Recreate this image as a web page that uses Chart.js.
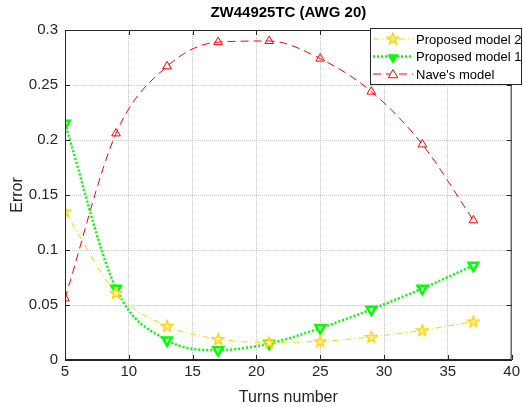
<!DOCTYPE html>
<html>
<head>
<meta charset="utf-8">
<script src="https://cdn.jsdelivr.net/npm/chart.js@4.4.1/dist/chart.umd.min.js"></script>
<style>
  html, body { margin: 0; padding: 0; background: #fff; }
  #wrap { width: 523px; height: 407px; position: relative; }
</style>
</head>
<body>
<div id="wrap"><canvas id="errChart"></canvas></div>
<script>
// data
const turns = [5, 9, 13, 17, 21, 25, 29, 33, 37];
const model2 = [0.135, 0.061, 0.031, 0.019, 0.016, 0.017, 0.021, 0.027, 0.035];
const model1 = [0.215, 0.065, 0.018, 0.009, 0.015, 0.029, 0.046, 0.065, 0.086];
const naveModel = [0.056, 0.206, 0.267, 0.289, 0.290, 0.274, 0.244, 0.196, 0.127];
const seriesNames = ['Proposed model 2', 'Proposed model 1', "Nave's model"];
const chartTitle = 'ZW44925TC (AWG 20)';

const FONT = 'Liberation Sans, Arial, sans-serif';
const YELLOW = '#FFD000';
const GREEN = '#00FF00';
const RED = '#FF0000';

function starPath(ctx, cx, cy, r) {
    ctx.beginPath();
    for (let i = 0; i < 10; i++) {
        var rr = i % 2 === 0 ? r : r * 0.42;
        var a = -Math.PI / 2 + i * Math.PI / 5;
        var px = cx + rr * Math.cos(a), py = cy + rr * Math.sin(a);
        if (i === 0) ctx.moveTo(px, py); else ctx.lineTo(px, py);
    }
    ctx.closePath();
}

// pentagram marker image
const starImg = document.createElement('canvas');
starImg.width = 14; starImg.height = 14;
(function () {
    var c = starImg.getContext('2d');
    starPath(c, 7, 7.5, 6);
    c.fillStyle = '#FFEE99';
    c.fill();
    c.strokeStyle = YELLOW;
    c.lineWidth = 1.3;
    c.stroke();
})();

function triPath(ctx, cx, cy, r, down) {
    var s = down ? -1 : 1;
    ctx.beginPath();
    ctx.moveTo(cx, cy - s * r);
    ctx.lineTo(cx + r * 0.87, cy + s * r * 0.5);
    ctx.lineTo(cx - r * 0.87, cy + s * r * 0.5);
    ctx.closePath();
}

function fmtTick(v) {
    return String(parseFloat(Number(v).toFixed(2)));
}

const framePlugin = {
    id: 'frame',
    afterDraw(chart) {
        const ctx = chart.ctx;
        const a = chart.chartArea;
        const xs = chart.scales.x, ys = chart.scales.y;
        ctx.save();
        // box and inward ticks
        ctx.strokeStyle = '#262626';
        ctx.lineWidth = 1;
        ctx.strokeRect(a.left + 0.5, a.top + 0.5, a.right - a.left - 1, a.bottom - a.top - 1);
        ctx.beginPath();
        xs.ticks.forEach(t => {
            var px = Math.round(xs.getPixelForValue(t.value)) + 0.5;
            ctx.moveTo(px, a.bottom); ctx.lineTo(px, a.bottom - 5);
            ctx.moveTo(px, a.top); ctx.lineTo(px, a.top + 5);
        });
        ys.ticks.forEach(t => {
            var py = Math.round(ys.getPixelForValue(t.value)) + 0.5;
            ctx.moveTo(a.left, py); ctx.lineTo(a.left + 5, py);
            ctx.moveTo(a.right, py); ctx.lineTo(a.right - 5, py);
        });
        ctx.stroke();

        // title
        ctx.fillStyle = '#000';
        ctx.font = 'bold 15px ' + FONT;
        ctx.textAlign = 'center';
        ctx.textBaseline = 'middle';
        ctx.fillText(chartTitle, (a.left + a.right) / 2, 13);

        // legend box
        var lx = 370, ly = 28, lw = 152, lh = 57;
        ctx.fillStyle = '#fff';
        ctx.fillRect(lx, ly, lw, lh);
        ctx.strokeStyle = '#262626';
        ctx.strokeRect(lx + 0.5, ly + 0.5, lw - 1, lh - 1);
        var styles = [
            { color: YELLOW, dash: [6, 3, 1, 3], width: 1, marker: 'star' },
            { color: GREEN, dash: [2, 2], width: 2.5, marker: 'tridown' },
            { color: RED, dash: [8, 5], width: 1, marker: 'tri' }
        ];
        ctx.font = '13px ' + FONT;
        ctx.textAlign = 'left';
        styles.forEach((s, i) => {
            var y = ly + 11 + i * 17.5;
            ctx.strokeStyle = s.color;
            ctx.lineWidth = s.width;
            ctx.setLineDash(s.dash);
            ctx.beginPath();
            ctx.moveTo(lx + 3, y); ctx.lineTo(lx + 43, y);
            ctx.stroke();
            ctx.setLineDash([]);
            var mx = lx + 23;
            if (s.marker === 'star') {
                ctx.drawImage(starImg, mx - 7, y - 7.5);
            } else if (s.marker === 'tridown') {
                triPath(ctx, mx, y + 1, 6.5, true);
                ctx.fillStyle = GREEN; ctx.fill();
            } else {
                triPath(ctx, mx, y + 1, 5.5, false);
                ctx.fillStyle = '#fff'; ctx.fill();
                ctx.lineWidth = 1; ctx.strokeStyle = RED; ctx.stroke();
            }
            ctx.fillStyle = '#000';
            ctx.fillText(seriesNames[i], lx + 46, y + 1);
        });
        ctx.restore();
    }
};

function toPoints(values) {
    return values.map((v, i) => ({ x: turns[i], y: v }));
}

new Chart(document.getElementById('errChart'), {
    type: 'line',
    data: {
        datasets: [{
            label: seriesNames[0],
            data: toPoints(model2),
            borderColor: YELLOW,
            borderWidth: 1,
            borderDash: [6, 3, 1, 3],
            pointStyle: starImg,
            cubicInterpolationMode: 'monotone'
        }, {
            label: seriesNames[1],
            data: toPoints(model1),
            borderColor: GREEN,
            borderWidth: 2.5,
            borderDash: [2, 2],
            pointStyle: 'triangle',
            rotation: 180,
            pointRadius: 5.5,
            pointBorderWidth: 2.5,
            pointBackgroundColor: 'rgba(255,255,255,0.5)',
            pointBorderColor: GREEN,
            cubicInterpolationMode: 'monotone'
        }, {
            label: seriesNames[2],
            data: toPoints(naveModel),
            borderColor: RED,
            borderWidth: 1,
            borderDash: [8, 5],
            pointStyle: 'triangle',
            pointRadius: 5,
            pointBorderWidth: 1,
            pointBackgroundColor: 'rgba(255,255,255,0)',
            pointBorderColor: RED,
            cubicInterpolationMode: 'monotone'
        }]
    },
    options: {
        responsive: true,
        maintainAspectRatio: false,
        animation: false,
        layout: { padding: { top: 30, right: 10, left: 8, bottom: 0 } },
        plugins: {
            legend: { display: false },
            title: { display: false },
            tooltip: { enabled: false }
        },
        scales: {
            x: {
                type: 'linear',
                min: 5, max: 40,
                afterFit: s => { s.height = 47; },
                ticks: { stepSize: 5, color: '#262626', font: { family: FONT, size: 15 }, padding: 3, maxRotation: 0 },
                grid: { color: '#c8c8c8', drawTicks: false, lineWidth: 1 },
                border: { display: true, color: '#262626', dash: [1, 1] },
                title: { display: true, text: 'Turns number', color: '#262626', font: { family: FONT, size: 16 }, padding: { top: 1, bottom: 0 } }
            },
            y: {
                min: 0, max: 0.3,
                afterFit: s => { s.width = 57; },
                ticks: { stepSize: 0.05, color: '#262626', font: { family: FONT, size: 15 }, padding: 7, callback: fmtTick },
                grid: { color: '#c8c8c8', drawTicks: false, lineWidth: 1 },
                border: { display: true, color: '#262626', dash: [1, 1] },
                title: { display: true, text: 'Error', color: '#262626', font: { family: FONT, size: 16 }, padding: { top: 0, bottom: 0 } }
            }
        }
    },
    plugins: [framePlugin]
});
</script>
</body>
</html>
